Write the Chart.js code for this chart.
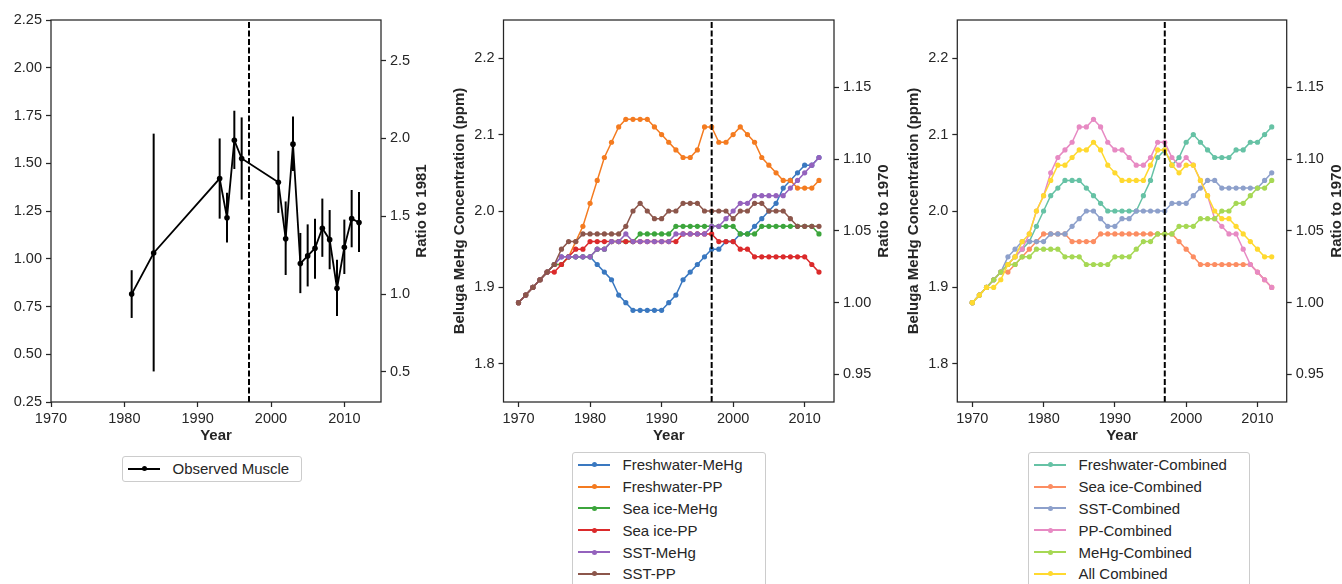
<!DOCTYPE html>
<html>
<head>
<meta charset="utf-8">
<script src="https://cdn.jsdelivr.net/npm/chart.js@4.4.1/dist/chart.umd.min.js"></script>
<style>
  html, body { margin: 0; padding: 0; background: #fff; width: 1342px; height: 584px; overflow: hidden; }
  .panel { position: absolute; top: 0; }
  .legend {
    position: absolute; box-sizing: border-box;
    border: 1px solid #cccccc; border-radius: 3px;
    background: rgba(255, 255, 255, 0.8);
    padding: 1px 0 0 5px;
    font: 15px 'Liberation Sans', Arial, sans-serif; color: #262626;
  }
  .legend .row { height: 21.8px; display: flex; align-items: center; white-space: nowrap; }
  .legend .swatch { position: relative; width: 32px; height: 2px; margin-right: 12.5px; }
  .legend .swatch i { position: absolute; left: 13.5px; top: -1.5px; width: 5px; height: 5px; border-radius: 50%; }
</style>
</head>
<body>
<canvas id="muscle" class="panel" width="450" height="450" style="left:0"></canvas>
<canvas id="drivers" class="panel" width="450" height="450" style="left:450px"></canvas>
<canvas id="combined" class="panel" width="442" height="450" style="left:900px"></canvas>
<div id="muscleLegend" class="legend" style="left:122px; top:456px; width:180px; height:26px"></div>
<div id="driversLegend" class="legend" style="left:572px; top:452px; width:194px; height:140px"></div>
<div id="combinedLegend" class="legend" style="left:1028px; top:452px; width:222px; height:140px"></div>

<script>
// ---- observed muscle MeHg (left panel) ----
const muscleYears = [1981, 1984, 1993, 1994, 1995, 1996, 2001, 2002, 2003, 2004, 2005, 2006, 2007, 2008, 2009, 2010, 2011, 2012];
const muscleMean  = [0.815, 1.03, 1.42, 1.215, 1.62, 1.525, 1.40, 1.105, 1.60, 0.975, 1.015, 1.055, 1.16, 1.10, 0.845, 1.06, 1.21, 1.19];
const muscleLow   = [0.69, 0.41, 1.21, 1.085, 1.47, 1.31, 1.24, 0.915, 1.46, 0.82, 0.855, 0.895, 1.01, 0.945, 0.70, 0.92, 1.06, 1.035];
const muscleHigh  = [0.94, 1.655, 1.63, 1.345, 1.775, 1.74, 1.565, 1.30, 1.745, 1.135, 1.18, 1.21, 1.315, 1.255, 0.995, 1.205, 1.36, 1.35];
const muscleLabel = 'Observed Muscle';

// ---- modelled concentration (middle + right panels) ----
const modelYears = [1970, 1971, 1972, 1973, 1974, 1975, 1976, 1977, 1978, 1979,
                    1980, 1981, 1982, 1983, 1984, 1985, 1986, 1987, 1988, 1989,
                    1990, 1991, 1992, 1993, 1994, 1995, 1996, 1997, 1998, 1999,
                    2000, 2001, 2002, 2003, 2004, 2005, 2006, 2007, 2008, 2009,
                    2010, 2011, 2012];

const driverNames = ['Freshwater-MeHg', 'Freshwater-PP', 'Sea ice-MeHg', 'Sea ice-PP', 'SST-MeHg', 'SST-PP'];
const freshwaterMeHg = [1.88, 1.89, 1.90, 1.91, 1.92, 1.93, 1.94, 1.94, 1.94, 1.94,
                        1.94, 1.93, 1.92, 1.91, 1.89, 1.88, 1.87, 1.87, 1.87, 1.87,
                        1.87, 1.88, 1.89, 1.91, 1.92, 1.93, 1.94, 1.95, 1.95, 1.96,
                        1.96, 1.97, 1.97, 1.98, 1.99, 2.00, 2.01, 2.03, 2.04, 2.05,
                        2.06, 2.06, 2.07];
const freshwaterPP   = [1.88, 1.89, 1.90, 1.91, 1.92, 1.93, 1.93, 1.94, 1.96, 1.98,
                        2.01, 2.04, 2.07, 2.09, 2.11, 2.12, 2.12, 2.12, 2.12, 2.11,
                        2.10, 2.09, 2.08, 2.07, 2.07, 2.08, 2.11, 2.11, 2.09, 2.09,
                        2.10, 2.11, 2.10, 2.09, 2.07, 2.06, 2.05, 2.04, 2.04, 2.03,
                        2.03, 2.03, 2.04];
const seaIceMeHg     = [1.88, 1.89, 1.90, 1.91, 1.92, 1.93, 1.93, 1.94, 1.94, 1.94,
                        1.94, 1.95, 1.95, 1.96, 1.96, 1.96, 1.96, 1.97, 1.97, 1.97,
                        1.97, 1.97, 1.98, 1.98, 1.98, 1.98, 1.98, 1.98, 1.98, 1.98,
                        1.98, 1.97, 1.97, 1.97, 1.98, 1.98, 1.98, 1.98, 1.98, 1.98,
                        1.98, 1.98, 1.97];
const seaIcePP       = [1.88, 1.89, 1.90, 1.91, 1.92, 1.92, 1.93, 1.94, 1.95, 1.95,
                        1.96, 1.96, 1.96, 1.96, 1.96, 1.96, 1.96, 1.96, 1.96, 1.96,
                        1.96, 1.96, 1.96, 1.97, 1.97, 1.97, 1.97, 1.97, 1.96, 1.96,
                        1.96, 1.95, 1.95, 1.94, 1.94, 1.94, 1.94, 1.94, 1.94, 1.94,
                        1.94, 1.93, 1.92];
const sstMeHg        = [1.88, 1.89, 1.90, 1.91, 1.92, 1.93, 1.94, 1.94, 1.94, 1.94,
                        1.94, 1.95, 1.95, 1.96, 1.96, 1.97, 1.96, 1.96, 1.96, 1.96,
                        1.96, 1.96, 1.97, 1.97, 1.97, 1.97, 1.97, 1.98, 1.98, 1.99,
                        2.00, 2.01, 2.01, 2.02, 2.02, 2.02, 2.02, 2.02, 2.03, 2.04,
                        2.05, 2.06, 2.07];
const sstPP          = [1.88, 1.89, 1.90, 1.91, 1.92, 1.93, 1.95, 1.96, 1.96, 1.97,
                        1.97, 1.97, 1.97, 1.97, 1.97, 1.98, 2.00, 2.01, 2.00, 1.99,
                        1.99, 2.00, 2.00, 2.01, 2.01, 2.01, 2.00, 2.00, 2.00, 2.00,
                        1.99, 2.00, 2.00, 2.01, 2.01, 2.00, 2.00, 2.00, 1.99, 1.98,
                        1.98, 1.98, 1.98];

const combinedNames = ['Freshwater-Combined', 'Sea ice-Combined', 'SST-Combined', 'PP-Combined', 'MeHg-Combined', 'All Combined'];
const freshwaterCombined = [1.88, 1.89, 1.90, 1.91, 1.92, 1.93, 1.94, 1.95, 1.96, 1.98,
                            2.00, 2.02, 2.03, 2.04, 2.04, 2.04, 2.03, 2.02, 2.01, 2.00,
                            2.00, 2.00, 2.00, 2.00, 2.02, 2.04, 2.07, 2.08, 2.06, 2.07,
                            2.09, 2.10, 2.09, 2.08, 2.07, 2.07, 2.07, 2.08, 2.08, 2.09,
                            2.09, 2.10, 2.11];
const seaIceCombined     = [1.88, 1.89, 1.90, 1.91, 1.92, 1.92, 1.93, 1.94, 1.95, 1.96,
                            1.97, 1.97, 1.97, 1.97, 1.96, 1.96, 1.96, 1.96, 1.97, 1.97,
                            1.97, 1.97, 1.97, 1.97, 1.97, 1.97, 1.97, 1.97, 1.97, 1.96,
                            1.95, 1.94, 1.93, 1.93, 1.93, 1.93, 1.93, 1.93, 1.93, 1.93,
                            1.92, 1.91, 1.90];
const sstCombined        = [1.88, 1.89, 1.90, 1.91, 1.92, 1.94, 1.95, 1.96, 1.96, 1.96,
                            1.96, 1.97, 1.97, 1.97, 1.98, 1.99, 2.00, 2.00, 1.99, 1.98,
                            1.98, 1.99, 1.99, 2.00, 2.00, 2.00, 2.00, 2.00, 2.01, 2.01,
                            2.01, 2.02, 2.03, 2.04, 2.04, 2.03, 2.03, 2.03, 2.03, 2.03,
                            2.03, 2.04, 2.05];
const ppCombined         = [1.88, 1.89, 1.90, 1.91, 1.92, 1.93, 1.94, 1.95, 1.97, 2.00,
                            2.02, 2.05, 2.07, 2.08, 2.09, 2.11, 2.11, 2.12, 2.11, 2.09,
                            2.08, 2.08, 2.07, 2.06, 2.06, 2.07, 2.09, 2.09, 2.07, 2.06,
                            2.07, 2.06, 2.04, 2.02, 1.99, 1.98, 1.97, 1.97, 1.95, 1.93,
                            1.92, 1.91, 1.90];
const mehgCombined       = [1.88, 1.89, 1.90, 1.91, 1.92, 1.93, 1.93, 1.94, 1.94, 1.95,
                            1.95, 1.95, 1.95, 1.94, 1.94, 1.94, 1.93, 1.93, 1.93, 1.93,
                            1.94, 1.94, 1.94, 1.95, 1.96, 1.96, 1.97, 1.97, 1.97, 1.98,
                            1.98, 1.98, 1.99, 1.99, 1.99, 2.00, 2.00, 2.01, 2.01, 2.02,
                            2.03, 2.03, 2.04];
const allCombined        = [1.88, 1.89, 1.90, 1.90, 1.91, 1.93, 1.94, 1.96, 1.97, 2.00,
                            2.02, 2.04, 2.06, 2.06, 2.07, 2.08, 2.08, 2.09, 2.08, 2.06,
                            2.05, 2.04, 2.04, 2.04, 2.04, 2.06, 2.08, 2.08, 2.06, 2.05,
                            2.06, 2.06, 2.04, 2.02, 2.00, 1.99, 1.99, 1.98, 1.97, 1.96,
                            1.95, 1.94, 1.94];

// ---- axes / ticks ----
const yearTicks = [1970, 1980, 1990, 2000, 2010];
const muscleTicks = [0.25, 0.50, 0.75, 1.00, 1.25, 1.50, 1.75, 2.00, 2.25];
const muscleRatioTicks = [0.5, 1.0, 1.5, 2.0, 2.5];
const concTicks = [1.8, 1.9, 2.0, 2.1, 2.2];
const concRatioTicks = [0.95, 1.00, 1.05, 1.10, 1.15];
const muscleRange = [0.25, 2.25];
const concRange = [1.75, 2.25];
const muscleYearRange = [1970, 2015];
const modelYearRange = [1967.9, 2014.1];
const splitYear = 1997;

const driverColors = ['#3a78c0', '#f47b20', '#3ca53c', '#db2a2b', '#9462bd', '#8c564b'];
const combinedColors = ['#66c2a5', '#fc8d62', '#8da0cb', '#e78ac3', '#a6d854', '#ffd92f'];
const INK = '#262626';
const FONT = "'Liberation Sans', Arial, Helvetica, sans-serif";

Chart.defaults.font.family = FONT;
Chart.defaults.font.size = 14.5;
Chart.defaults.color = INK;

// box around the plot area (all four spines)
const framePlugin = {
  id: 'frame',
  afterDraw(chart) {
    const { ctx, chartArea: a } = chart;
    ctx.save();
    ctx.strokeStyle = INK;
    ctx.lineWidth = 1.25;
    ctx.strokeRect(a.left, a.top, a.right - a.left, a.bottom - a.top);
    ctx.restore();
  }
};

// right axis title reads bottom-to-top like matplotlib twinx label
const rightTitlePlugin = {
  id: 'rightTitle',
  afterDraw(chart, args, opts) {
    const { ctx, chartArea: a } = chart;
    ctx.save();
    ctx.translate(chart.width - opts.offset, (a.top + a.bottom) / 2);
    ctx.rotate(-Math.PI / 2);
    ctx.font = 'bold 15px ' + FONT;
    ctx.fillStyle = INK;
    ctx.textAlign = 'center';
    ctx.textBaseline = 'middle';
    ctx.fillText(opts.text, 0, 0);
    ctx.restore();
  }
};

const tickGrid = { display: true, offset: false, drawOnChartArea: false, drawTicks: true, tickLength: 5, tickWidth: 1.25, tickColor: INK };

function fixedTicks(values) {
  return scale => { scale.ticks = values.map(v => ({ value: v })); };
}

function seriesDataset(label, values, color, idx, n) {
  return {
    label,
    data: modelYears.map((yr, i) => ({ x: yr, y: values[i] })),
    borderColor: color,
    backgroundColor: color,
    pointBackgroundColor: color,
    borderWidth: 1.5,
    pointRadius: 2.6,
    pointBorderWidth: 0,
    order: n - idx + 1   // later series drawn on top, as in matplotlib
  };
}

function dividerDataset(range) {
  return {
    data: [{ x: splitYear, y: range[0] }, { x: splitYear, y: range[1] }],
    borderColor: '#000',
    borderWidth: 2,
    borderDash: [6, 2.5],
    pointRadius: 0,
    order: 0,
    legendSkip: true
  };
}

function makeChart(id, datasets, o) {
  return new Chart(document.getElementById(id), {
    type: 'line',
    data: { datasets },
    options: {
      responsive: false,
      animation: false,
      layout: { padding: { top: 20, left: 0, right: 0, bottom: 0 } },
      plugins: {
        legend: { display: false },
        tooltip: { enabled: false },
        rightTitle: { text: o.rightTitle, offset: o.rightOffset }
      },
      scales: {
        x: {
          type: 'linear', min: o.xRange[0], max: o.xRange[1], offset: false,
          afterBuildTicks: fixedTicks(yearTicks),
          afterFit: s => { s.height = 48; },
          ticks: { callback: v => String(v), padding: 3, maxRotation: 0, autoSkip: false },
          grid: tickGrid,
          border: { display: false },
          title: { display: true, text: 'Year', color: INK, font: { weight: 'bold', size: 15 }, padding: { top: 0, bottom: 5 } }
        },
        y: {
          type: 'linear', position: 'left', min: o.yRange[0], max: o.yRange[1],
          afterBuildTicks: fixedTicks(o.yTicks),
          afterFit: s => { s.width = o.leftWidth; },
          ticks: { callback: v => v.toFixed(o.yDigits), padding: 4, autoSkip: false },
          grid: tickGrid,
          border: { display: false },
          title: { display: !!o.leftTitle, text: o.leftTitle || '', color: INK, font: { weight: 'bold', size: 15 }, padding: { top: o.leftTitlePad || 0, bottom: 0 } }
        },
        y2: {
          type: 'linear', position: 'right',
          min: o.yRange[0] / o.base, max: o.yRange[1] / o.base,
          afterBuildTicks: fixedTicks(o.ratioTicks),
          afterFit: s => { s.width = o.rightWidth; },
          ticks: { callback: v => v.toFixed(o.ratioDigits), padding: 4, autoSkip: false },
          grid: tickGrid,
          border: { display: false }
        }
      }
    },
    plugins: [framePlugin, rightTitlePlugin]
  });
}

// HTML legend, one column, built from the chart's own datasets
function buildLegend(chart, elId) {
  const box = document.getElementById(elId);
  chart.data.datasets.filter(d => !d.legendSkip && d.label).forEach(d => {
    const row = document.createElement('div');
    row.className = 'row';
    const sw = document.createElement('span');
    sw.className = 'swatch';
    sw.style.background = d.borderColor;
    const dot = document.createElement('i');
    dot.style.background = d.borderColor;
    sw.appendChild(dot);
    const txt = document.createElement('span');
    txt.textContent = d.label;
    row.appendChild(sw);
    row.appendChild(txt);
    box.appendChild(row);
  });
}

// ---- left: observed muscle with error bars ----
const muscleChart = makeChart('muscle', [
  {
    label: muscleLabel,
    data: muscleYears.map((yr, i) => ({ x: yr, y: muscleMean[i] })),
    borderColor: '#000', backgroundColor: '#000', pointBackgroundColor: '#000',
    borderWidth: 1.8, pointRadius: 2.8, pointBorderWidth: 0, order: 1
  },
  {
    type: 'bar',
    data: muscleYears.map((yr, i) => ({ x: yr, y: [muscleLow[i], muscleHigh[i]] })),
    backgroundColor: '#000', borderWidth: 0, barThickness: 2, inflateAmount: 0,
    order: 2, legendSkip: true
  },
  dividerDataset(muscleRange)
], {
  xRange: muscleYearRange, yRange: muscleRange, yTicks: muscleTicks, yDigits: 2,
  base: muscleMean[0], ratioTicks: muscleRatioTicks, ratioDigits: 1,
  leftWidth: 51, rightWidth: 69, rightTitle: 'Ratio to 1981', rightOffset: 28
});
buildLegend(muscleChart, 'muscleLegend');

// ---- middle: single drivers ----
const driverValues = [freshwaterMeHg, freshwaterPP, seaIceMeHg, seaIcePP, sstMeHg, sstPP];
const driverChart = makeChart('drivers',
  driverNames.map((n, i) => seriesDataset(n, driverValues[i], driverColors[i], i, driverNames.length))
    .concat([dividerDataset(concRange)]), {
  xRange: modelYearRange, yRange: concRange, yTicks: concTicks, yDigits: 1,
  base: freshwaterMeHg[0], ratioTicks: concRatioTicks, ratioDigits: 2,
  leftWidth: 53.5, rightWidth: 66, leftTitle: 'Beluga MeHg Concentration (ppm)', leftTitlePad: 1.3,
  rightTitle: 'Ratio to 1970', rightOffset: 16
});
buildLegend(driverChart, 'driversLegend');

// ---- right: combined drivers ----
const combinedValues = [freshwaterCombined, seaIceCombined, sstCombined, ppCombined, mehgCombined, allCombined];
const combinedChart = makeChart('combined',
  combinedNames.map((n, i) => seriesDataset(n, combinedValues[i], combinedColors[i], i, combinedNames.length))
    .concat([dividerDataset(concRange)]), {
  xRange: modelYearRange, yRange: concRange, yTicks: concTicks, yDigits: 1,
  base: allCombined[0], ratioTicks: concRatioTicks, ratioDigits: 2,
  leftWidth: 57.3, rightWidth: 55.3, leftTitle: 'Beluga MeHg Concentration (ppm)', leftTitlePad: 5,
  rightTitle: 'Ratio to 1970', rightOffset: 5
});
buildLegend(combinedChart, 'combinedLegend');
</script>
</body>
</html>
